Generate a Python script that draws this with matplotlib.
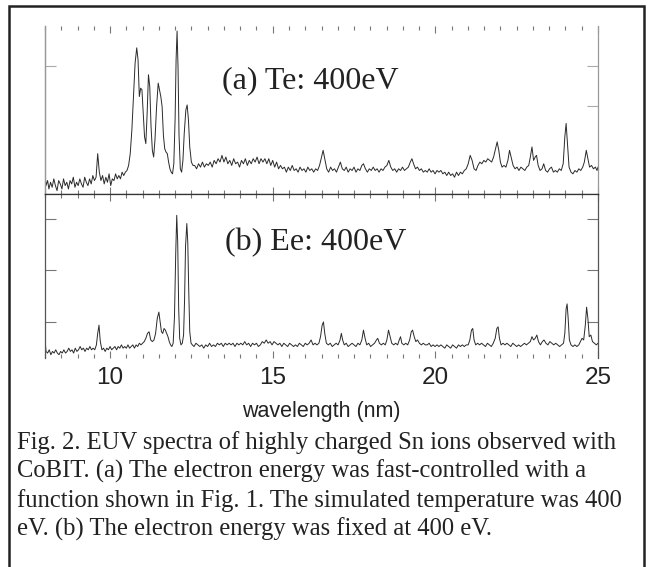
import matplotlib
matplotlib.use("Agg")
import matplotlib.pyplot as plt
from matplotlib.patches import Rectangle
from matplotlib.ticker import MultipleLocator

# spectrum (a): Te 400 eV, intensity in % of panel height
wl_a = [8.00, 8.03, 8.08, 8.12, 8.17, 8.22, 8.27, 8.32, 8.37, 8.42,
        8.47, 8.52, 8.57, 8.62, 8.67, 8.72, 8.77, 8.82, 8.87, 8.92,
        8.97, 9.02, 9.07, 9.12, 9.17, 9.22, 9.27, 9.32, 9.37, 9.42,
        9.47, 9.52, 9.57,
        9.62, 9.67, 9.72, 9.77, 9.82, 9.87, 9.92, 9.97, 10.02, 10.07,
        10.12, 10.17, 10.22, 10.27, 10.32, 10.37, 10.42, 10.47, 10.52, 10.57,
        10.62, 10.67, 10.72, 10.77, 10.82, 10.86, 10.90, 10.94, 10.98, 11.02,
        11.06, 11.10, 11.14, 11.18, 11.22, 11.26, 11.30, 11.34, 11.38, 11.43,
        11.48, 11.52, 11.56, 11.60, 11.64, 11.68, 11.72, 11.76, 11.80, 11.84,
        11.88, 11.92, 11.96, 12.00, 12.03, 12.06, 12.09, 12.12, 12.16, 12.20,
        12.24, 12.28, 12.33, 12.37, 12.41, 12.45, 12.50, 12.55,
        12.60, 12.66, 12.72, 12.78, 12.84, 12.90, 12.96, 13.02, 13.08, 13.14,
        13.20, 13.26, 13.32, 13.38, 13.44, 13.50, 13.56, 13.62, 13.68, 13.74,
        13.80, 13.86, 13.92, 13.98, 14.04, 14.10, 14.16, 14.22, 14.28, 14.34,
        14.40, 14.46, 14.52, 14.58, 14.64, 14.70, 14.76, 14.82, 14.88, 14.94,
        15.00, 15.06, 15.12, 15.18, 15.24, 15.30, 15.36, 15.42, 15.48, 15.54,
        15.60, 15.66, 15.72, 15.78, 15.84, 15.90, 15.96, 16.02, 16.08, 16.14,
        16.20, 16.26, 16.32, 16.38, 16.44,
        16.50, 16.55, 16.60, 16.66, 16.72, 16.78, 16.84, 16.90, 16.96, 17.02,
        17.08, 17.14, 17.20, 17.26, 17.32, 17.38, 17.44, 17.50, 17.56, 17.62,
        17.68, 17.74, 17.79, 17.85, 17.91, 17.97, 18.03, 18.09, 18.15, 18.21,
        18.27, 18.33, 18.39, 18.45, 18.51, 18.57, 18.63, 18.69, 18.75, 18.81,
        18.87, 18.93, 18.99, 19.05, 19.11, 19.17, 19.23, 19.28, 19.33, 19.39,
        19.45, 19.51, 19.57, 19.63, 19.69, 19.75, 19.81, 19.87, 19.93, 19.99,
        20.05, 20.11, 20.17, 20.23, 20.29, 20.35, 20.41, 20.47, 20.53, 20.59,
        20.65, 20.71, 20.77, 20.83, 20.89, 20.95, 21.01, 21.07, 21.13, 21.19,
        21.25, 21.31, 21.37, 21.43, 21.49, 21.55, 21.61, 21.67, 21.73, 21.79,
        21.85, 21.90, 21.95, 22.00, 22.05, 22.11, 22.17, 22.23, 22.28, 22.33,
        22.39, 22.45, 22.51, 22.57, 22.63, 22.69, 22.75, 22.81, 22.87, 22.92,
        22.97, 23.02, 23.07, 23.11, 23.16, 23.22, 23.28, 23.33, 23.39, 23.45,
        23.51, 23.57, 23.63, 23.69, 23.75, 23.81, 23.87, 23.93, 23.98, 24.02,
        24.06, 24.11, 24.17, 24.23, 24.29, 24.35, 24.41, 24.47, 24.53, 24.58,
        24.64, 24.69, 24.74, 24.80, 24.86, 24.92, 24.97, 25.00]
int_a = [13, 5, 8, 3, 7, 4, 9, 5, 2, 8,
         6, 3, 9, 5, 7, 3, 8, 6, 10, 4,
         7, 5, 9, 6, 4, 10, 7, 5, 9, 6,
         11, 8, 10,
         24, 13, 8, 11, 6, 10, 7, 12, 5, 9,
         8, 12, 9, 11, 9, 13, 11, 13, 14, 17,
         24, 38, 58, 78, 87, 80, 58, 63, 62, 48,
         34, 30, 48, 71, 64, 40, 26, 22, 32, 52,
         66, 62, 58, 52, 35, 27, 25, 24, 19, 15,
         13, 12, 18, 45, 80, 97, 75, 35, 15, 13,
         20, 36, 50, 53, 44, 28, 19, 17,
         17, 15, 18, 16, 19, 16, 18, 17, 19, 16,
         20, 18, 21, 19, 23, 19, 22, 18, 20, 17,
         21, 18, 19, 16, 20, 18, 21, 17, 20, 18,
         21, 19, 22, 18, 21, 19, 21, 18, 21, 17,
         20, 16, 19, 15, 17, 15, 16, 13, 16, 14,
         17, 14, 15, 13, 16, 14, 15, 13, 16, 14,
         15, 13, 15, 14, 17,
         22, 26, 21, 15, 13, 16, 14, 15, 13, 16,
         19, 15, 14, 16, 13, 15, 14, 16, 13, 15,
         14, 17, 18, 15, 13, 15, 14, 16, 14, 15,
         13, 15, 14, 16, 17, 20, 16, 14, 15, 13,
         15, 14, 16, 14, 15, 16, 19, 21, 18, 15,
         16, 14, 15, 13, 14, 13, 15, 13, 14, 12,
         14, 13, 14, 12, 13, 11, 13, 11, 12, 10,
         13, 11, 13, 12, 14, 15, 18, 23, 20, 15,
         14, 17, 19, 18, 20, 19, 21, 20, 19, 22,
         27, 31, 26, 19, 16, 17, 16, 20, 26, 22,
         17, 15, 16, 14, 16, 15, 14, 16, 17, 22,
         28, 20, 22, 23, 17, 14, 15, 18, 14, 13,
         15, 16, 13, 14, 13, 15, 14, 18, 34, 42,
         30, 16, 13, 12, 14, 13, 15, 14, 16, 19,
         26, 21, 16, 17, 15, 16, 14, 16]

# spectrum (b): Ee 400 eV
wl_b = [8.00, 8.03, 8.08, 8.13, 8.18, 8.23, 8.28, 8.33, 8.38, 8.43,
        8.48, 8.53, 8.58, 8.63, 8.68, 8.73, 8.78, 8.83, 8.88, 8.93,
        8.98, 9.03, 9.08, 9.13, 9.18, 9.23, 9.28, 9.33, 9.38, 9.43,
        9.48, 9.53, 9.58,
        9.62, 9.66, 9.70, 9.75, 9.80, 9.85, 9.90, 9.95, 10.00, 10.05,
        10.10, 10.15, 10.20, 10.25, 10.30, 10.35, 10.40, 10.45, 10.50, 10.55,
        10.60, 10.65, 10.70, 10.75, 10.80, 10.85, 10.90, 10.95, 11.00,
        11.05, 11.10, 11.15, 11.20, 11.25, 11.30, 11.35, 11.40, 11.45, 11.50,
        11.54, 11.58, 11.62, 11.66, 11.70, 11.74, 11.78, 11.82, 11.86, 11.90,
        11.94, 11.98, 12.02, 12.05, 12.08, 12.11, 12.14, 12.18, 12.22, 12.26,
        12.29, 12.32, 12.36, 12.39, 12.42, 12.45, 12.49, 12.53,
        12.58, 12.64, 12.70, 12.76, 12.82, 12.88, 12.94, 13.00, 13.06, 13.12,
        13.18, 13.24, 13.30, 13.36, 13.42, 13.48, 13.54, 13.60, 13.66, 13.72,
        13.78, 13.84, 13.90, 13.96, 14.02, 14.08, 14.14, 14.20, 14.26, 14.32,
        14.38, 14.44, 14.50, 14.56, 14.62, 14.68, 14.74, 14.80, 14.86, 14.92,
        14.98, 15.04, 15.10, 15.16, 15.22, 15.28, 15.34, 15.40, 15.46, 15.52,
        15.58, 15.64, 15.70, 15.76, 15.82, 15.88, 15.94, 16.00, 16.06, 16.12,
        16.18,
        16.24, 16.30, 16.36, 16.42, 16.47, 16.52, 16.56, 16.60, 16.65, 16.71,
        16.77, 16.83, 16.89, 16.95, 17.01, 17.07, 17.11, 17.15, 17.20, 17.26,
        17.32, 17.38, 17.44, 17.50, 17.56, 17.62, 17.68, 17.74, 17.79, 17.84,
        17.89, 17.95, 18.01, 18.07, 18.13, 18.19, 18.23, 18.28, 18.34, 18.40,
        18.46, 18.51, 18.56, 18.61, 18.66, 18.72, 18.78, 18.84, 18.89, 18.93,
        18.97, 19.03, 19.09, 19.15, 19.21, 19.26, 19.30, 19.35, 19.40, 19.45,
        19.51, 19.57, 19.63, 19.69, 19.75, 19.81, 19.87, 19.93, 19.99, 20.05,
        20.11, 20.17, 20.23, 20.29, 20.35, 20.41, 20.47, 20.53, 20.59, 20.65,
        20.71, 20.77, 20.83, 20.89, 20.95, 21.01, 21.06, 21.11, 21.15, 21.19,
        21.24, 21.30, 21.36, 21.42, 21.48, 21.54, 21.60, 21.66, 21.72, 21.78,
        21.84, 21.89, 21.93, 21.97, 22.02, 22.08, 22.14, 22.20, 22.26, 22.32,
        22.38, 22.44, 22.50, 22.56, 22.62, 22.68, 22.74, 22.80, 22.86, 22.92,
        22.97, 23.02, 23.07, 23.12, 23.17, 23.23, 23.29, 23.34, 23.40, 23.46,
        23.52, 23.58, 23.64, 23.70, 23.76, 23.82, 23.88, 23.94, 23.98, 24.02,
        24.05, 24.08, 24.12, 24.17, 24.23, 24.29, 24.35, 24.41, 24.46, 24.51,
        24.56, 24.61, 24.65, 24.69, 24.73, 24.78, 24.83, 24.89, 24.95, 25.00]
int_b = [12, 4, 3, 5, 2, 4, 3, 5, 3, 2,
         4, 3, 5, 3, 4, 6, 4, 5, 3, 6,
         4, 5, 7, 5, 6, 4, 6, 5, 7, 5,
         6, 5, 8,
         15, 20, 10, 5, 6, 4, 6, 5, 7, 5,
         6, 7, 5, 7, 6, 8, 6, 7, 6, 8,
         6, 7, 8, 6, 8, 7, 9, 8, 9,
         10, 12, 15, 16, 11, 10, 11, 15, 24, 28,
         22, 16, 15, 18, 17, 15, 13, 10, 8, 7,
         9, 25, 65, 87, 70, 30, 12, 8, 9, 14,
         35, 68, 82, 70, 40, 16, 9, 8,
         7, 9, 8, 7, 8, 6, 8, 7, 9, 7,
         8, 7, 9, 8, 9, 7, 9, 8, 9, 8,
         9, 7, 9, 8, 9, 8, 10, 8, 9, 7,
         9, 8, 9, 7, 8, 10, 9, 11, 9, 10,
         8, 10, 9, 8, 9, 7, 9, 8, 7, 9,
         8, 7, 8, 7, 9, 8, 7, 9, 8, 9,
         11,
         8, 9, 8, 9, 13, 20, 22, 15, 9, 8,
         9, 7, 8, 9, 8, 11, 15, 11, 8, 9,
         7, 8, 9, 8, 7, 9, 8, 11, 17, 12,
         8, 9, 7, 8, 9, 11, 12, 9, 8, 9,
         8, 11, 17, 13, 9, 8, 9, 8, 11, 13,
         9, 8, 9, 8, 11, 16, 17, 13, 10, 11,
         9, 8, 9, 8, 8, 9, 7, 8, 7, 8,
         7, 8, 7, 6, 8, 7, 6, 8, 7, 6,
         8, 7, 8, 7, 8, 8, 11, 17, 18, 11,
         8, 9, 8, 9, 8, 7, 9, 8, 7, 9,
         12, 18, 19, 12, 8, 9, 8, 9, 8, 7,
         9, 8, 7, 8, 7, 8, 9, 8, 9, 10,
         13, 11, 12, 14, 10, 8, 10, 11, 9, 8,
         10, 9, 8, 9, 8, 7, 8, 9, 15, 30,
         33, 25, 11, 8, 7, 8, 7, 8, 10, 12,
         11, 20, 31, 24, 13, 14, 10, 9, 8, 9]

xticks = [10, 15, 20, 25]
yticks_a_left = [76.2]
yticks_a_right = [52.4, 76.2]
yticks_b = [22.0, 53.4, 84.8]
labels = ["(a) Te: 400eV", "(b) Ee: 400eV"]
caption = ["Fig. 2. EUV spectra of highly charged Sn ions observed with",
           "CoBIT. (a) The electron energy was fast-controlled with a",
           "function shown in Fig. 1. The simulated temperature was 400",
           "eV. (b) The electron energy was fixed at 400 eV."]

W, H = 651, 567
fig = plt.figure(figsize=(W / 100, H / 100), dpi=100)
fig.patch.set_facecolor("white")

L, R = 45 / W, 598 / W
ax_a = fig.add_axes([L, 1 - 194 / H, R - L, (194 - 26) / H])
ax_b = fig.add_axes([L, 1 - 358 / H, R - L, (358 - 194) / H])

line_col = "#2a2a2a"
ax_a.plot(wl_a, int_a, color=line_col, lw=0.7)
ax_b.plot(wl_b, int_b, color=line_col, lw=0.7)

for ax in (ax_a, ax_b):
    ax.set_xlim(8, 25)
    ax.set_ylim(0, 100)
    ax.set_xticks(xticks)
    ax.xaxis.set_minor_locator(MultipleLocator(0.5))
    ax.tick_params(axis="x", which="both", direction="in", top=True, bottom=True,
                   color="#777", width=0.8)
    ax.tick_params(axis="x", which="major", length=5)
    ax.tick_params(axis="x", which="minor", length=3)

# panel (a): right ticks from the main axis, a single left tick from a secondary axis
ax_a.set_yticks(yticks_a_right)
ax_a.tick_params(axis="y", direction="in", left=False, right=True, length=8,
                 width=0.8, color="#aaa", labelleft=False)
sec = ax_a.secondary_yaxis("left")
sec.set_yticks(yticks_a_left)
sec.tick_params(direction="in", length=8, width=0.8, color="#aaa", labelleft=False)
sec.spines["left"].set_color("#999")
sec.spines["left"].set_linewidth(0.9)

ax_b.set_yticks(yticks_b)
ax_b.tick_params(axis="y", direction="in", left=True, right=True, length=8,
                 width=0.8, color="#777", labelleft=False)

ax_a.tick_params(axis="x", labelbottom=False)
ax_b.tick_params(axis="x", which="major", pad=6.5, labelsize=17.5, labelcolor="#222")
for t in ax_b.get_xticklabels():
    t.set_fontfamily("Liberation Sans")

ax_a.spines["top"].set_visible(False)
ax_a.spines["bottom"].set_color("#333")
ax_a.spines["left"].set_color("#999")
ax_a.spines["right"].set_color("#999")
ax_b.spines["bottom"].set_visible(False)
ax_b.spines["top"].set_color("#333")
ax_b.spines["left"].set_color("#555")
ax_b.spines["right"].set_color("#555")
for ax in (ax_a, ax_b):
    for s in ax.spines.values():
        s.set_linewidth(0.9)

fig.text(222 / W, 1 - 88 / H, labels[0], family="Liberation Serif", fontsize=23,
         color="#222", va="baseline")
fig.text(225 / W, 1 - 250 / H, labels[1], family="Liberation Serif", fontsize=23,
         color="#222", va="baseline")

fig.text((L + R) / 2, 1 - 417 / H, "wavelength (nm)", family="Liberation Sans",
         fontsize=15.5, color="#222", ha="center", va="baseline")

for i, line in enumerate(caption):
    fig.text(17 / W, 1 - (449 + 29 * i) / H, line, family="Liberation Serif",
             fontsize=17.7, color="#222", va="baseline")

# outer frame of the figure panel
fig.patches.append(Rectangle((9 / W, -0.05), 635 / W, 1.05 - 6 / H,
                             transform=fig.transFigure, fill=False,
                             edgecolor="#222", lw=1.8))

fig.savefig("out.png", dpi=100)
